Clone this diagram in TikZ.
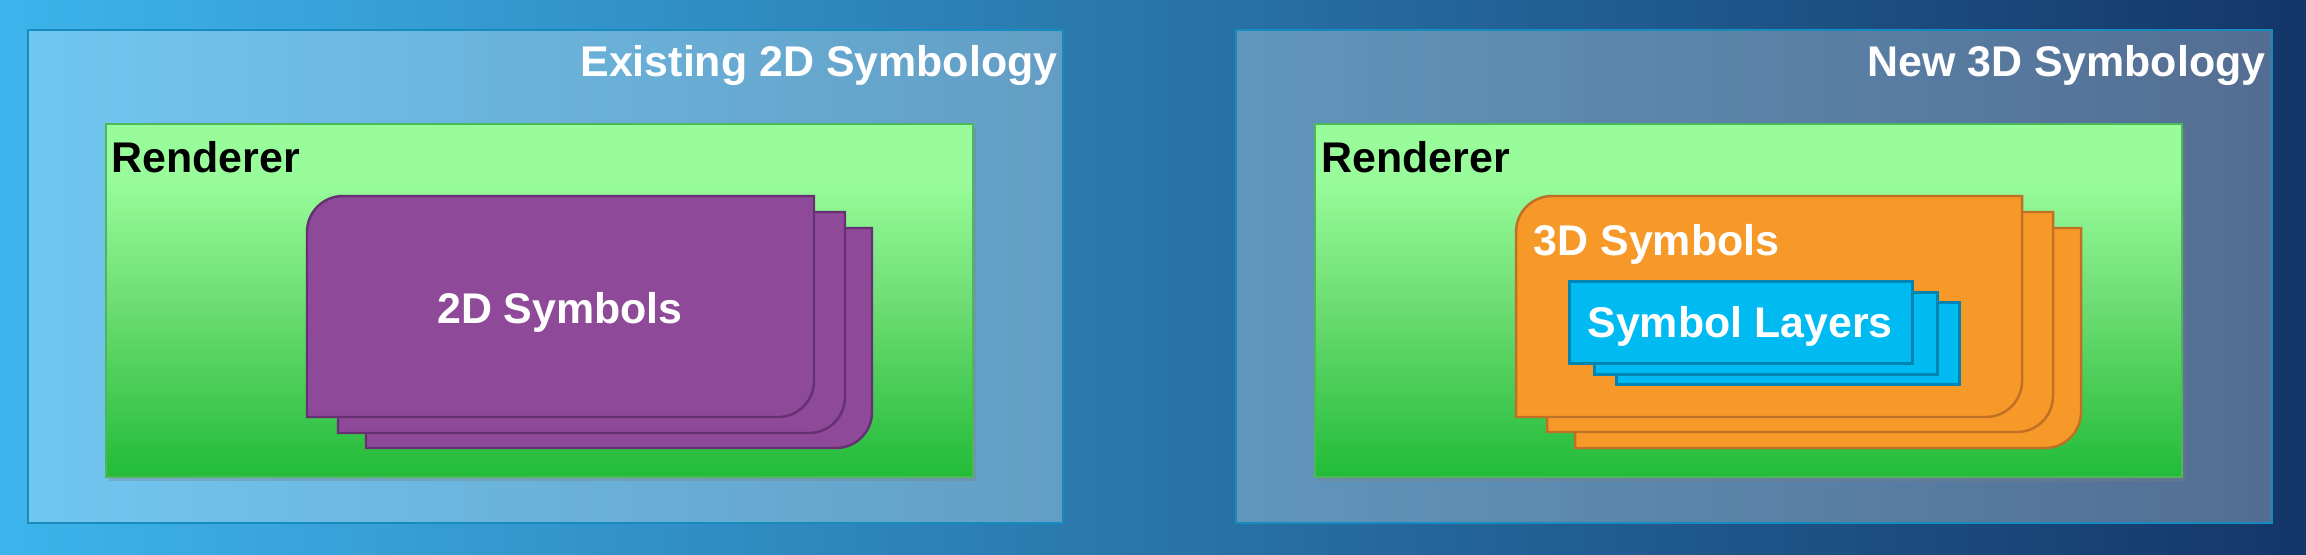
\documentclass[tikz,border=0pt]{standalone}
\usepackage{fontspec}
\setmainfont{Liberation Sans}
\usetikzlibrary{shadows}
\definecolor{bgleft}{RGB}{61,180,236}
\definecolor{bgmid}{RGB}{47,139,192}
\definecolor{bgright}{RGB}{20,54,104}
\definecolor{panelline}{RGB}{22,140,190}
\definecolor{rendtop}{RGB}{152,252,154}
\definecolor{rendupper}{RGB}{132,238,136}
\definecolor{rendmid}{RGB}{108,220,114}
\definecolor{rendbot}{RGB}{34,187,56}
\definecolor{rendline}{RGB}{76,184,90}
\definecolor{plum}{RGB}{142,74,152}
\definecolor{plumline}{RGB}{104,48,116}
\definecolor{amber}{RGB}{247,153,41}
\definecolor{amberline}{RGB}{192,112,36}
\definecolor{sky}{RGB}{0,186,242}
\definecolor{skyline}{RGB}{0,132,178}
\pgfdeclareverticalshading{rendshade}{100bp}{color(0bp)=(rendbot);
  color(25bp)=(rendbot); color(49bp)=(rendmid); color(59bp)=(rendupper);
  color(67bp)=(rendtop); color(100bp)=(rendtop)}
% card with rounded top-left and bottom-right corners: style, left, top, right, bottom
\newcommand{\symcard}[5]{%
  \filldraw[#1] (#2,#5) -- (#2,#3+36)
    arc[start angle=180, end angle=270, radius=36] -- (#4,#3) -- (#4,#5-36)
    arc[start angle=0, end angle=90, radius=36] -- cycle;}

\begin{document}
\begin{tikzpicture}[x=0.01cm, y=-0.01cm,
      panel/.style={draw=panelline, line width=0.5pt, fill=white, fill opacity=0.27},
      renderer/.style={shading=rendshade, draw=rendline, line width=0.6pt,
                       drop shadow={shadow xshift=0.8pt, shadow yshift=-1.2pt,
                                    opacity=0.35}},
      plumcard/.style={fill=plum, draw=plumline, line width=0.7pt},
      ambercard/.style={fill=amber, draw=amberline, line width=0.7pt},
      layer/.style={fill=sky, draw=skyline, line width=0.85pt},
      lbl/.style={font=\fontsize{12.2}{14}\selectfont\bfseries, inner sep=0pt,
                  text=white}]
    % ----- background
    \shade[left color=bgleft, middle color=bgmid, right color=bgright]
      (0,0) rectangle (2306,554);
    % ----- existing 2D symbology
    \draw[panel] (28,30) rectangle (1063,523);
    \node[lbl, anchor=base east] (oldtitle) at (1058,76) {Existing 2D Symbology};
    \path[renderer] (106,124) rectangle (973,477);
    \node[lbl, text=black, anchor=base west] (oldrend) at (111,172) {Renderer};
    \symcard{plumcard}{366}{228}{872}{448}
    \symcard{plumcard}{338}{212}{845}{433}
    \symcard{plumcard}{307}{196}{814}{417}
    \node[lbl, anchor=base] (sym2d) at (560,323) {2D Symbols};
    % ----- new 3D symbology
    \draw[panel] (1236,30) rectangle (2272,523);
    \node[lbl, anchor=base east] (newtitle) at (2266,76) {New 3D Symbology};
    \path[renderer] (1315,124) rectangle (2182,477);
    \node[lbl, text=black, anchor=base west] (newrend) at (1321,172) {Renderer};
    \symcard{ambercard}{1575}{228}{2081}{448}
    \symcard{ambercard}{1547}{212}{2053}{432}
    \symcard{ambercard}{1516}{196}{2022}{417}
    \node[lbl, anchor=base west] (sym3d) at (1533,255) {3D Symbols};
    \draw[layer] (1616,302) rectangle (1959,384);
    \draw[layer] (1594,292) rectangle (1937,374);
    \draw[layer] (1569,281) rectangle (1912,363);
    \node[lbl, anchor=base] (layers) at (1740,337) {Symbol Layers};
  \end{tikzpicture}
\end{document}
